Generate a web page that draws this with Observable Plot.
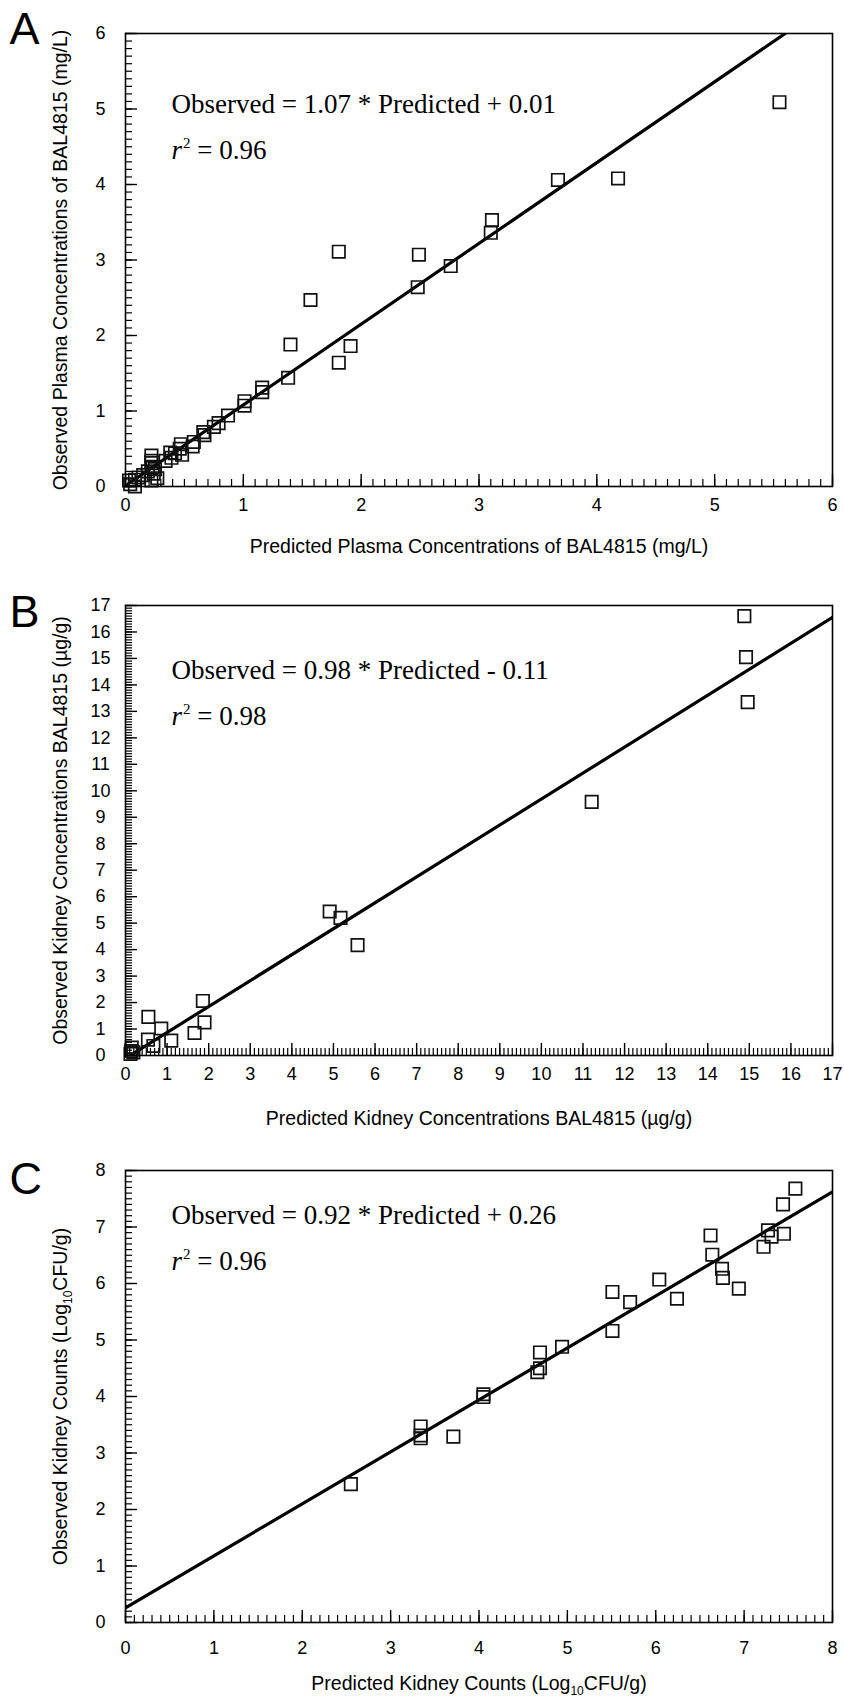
<!DOCTYPE html>
<html><head><meta charset="utf-8">
<script src="https://cdn.jsdelivr.net/npm/d3@7"></script>
<script src="https://cdn.jsdelivr.net/npm/@observablehq/plot@0.6"></script>
<style>
body{margin:0;background:#fff;}
#chart{width:844px;background:#fff;}
#chart svg{display:block;overflow:visible;}
</style></head><body><div id="chart"></div>
<script>
// ---------- Panel A : plasma concentrations (mg/L) ----------
const predictedA = [5.55,4.18,3.67,3.11,3.10,2.76,2.49,2.48,1.81,1.57,1.40,1.91,1.81,1.38,
  1.16,1.16,1.01,1.01,0.87,0.79,0.75,0.66,0.67,0.58,0.57,0.47,0.46,0.42,0.48,0.38,0.39,0.34,
  0.22,0.22,0.22,0.23,0.25,0.19,0.24,0.15,0.11,0.08,0.22,0.03,0.04,0.08,0.27];
const observedA = [5.09,4.08,4.06,3.53,3.36,2.92,3.07,2.64,3.11,2.47,1.88,1.86,1.64,1.44,
  1.31,1.25,1.13,1.07,0.94,0.84,0.79,0.72,0.68,0.59,0.53,0.56,0.50,0.44,0.42,0.45,0.38,0.34,
  0.41,0.34,0.31,0.26,0.23,0.20,0.17,0.15,0.12,0.09,0.08,0.08,0.03,0.00,0.11];
const fitA = {slope: 1.07, intercept: 0.01};
const majorTicksA = [0,1,2,3,4,5,6];

// ---------- Panel B : kidney concentrations (µg/g) ----------
const predictedB = [14.88,14.92,14.96,11.21,4.91,5.17,5.58,1.86,1.90,1.66,0.55,0.86,0.54,1.10,0.67,0.15,0.14,0.19,0.12];
const observedB  = [16.60,15.05,13.35,9.58,5.44,5.20,4.17,2.06,1.25,0.85,1.46,1.02,0.60,0.56,0.36,0.30,0.17,0.12,0.06];
const fitB = {slope: 0.98, intercept: -0.11};
const majorTicksB = [0,1,2,3,4,5,6,7,8,9,10,11,12,13,14,15,16,17];

// ---------- Panel C : kidney counts (Log10 CFU/g) ----------
const predictedC = [7.58,7.44,7.45,7.27,7.31,7.22,6.62,6.64,6.75,6.76,6.94,6.04,6.24,5.71,5.51,5.51,
  4.94,4.69,4.69,4.66,4.05,4.05,3.71,3.34,3.34,3.34,2.55];
const observedC  = [7.68,7.40,6.88,6.94,6.83,6.65,6.85,6.51,6.26,6.10,5.91,6.07,5.73,5.67,5.85,5.16,
  4.88,4.78,4.50,4.43,4.04,3.99,3.29,3.47,3.31,3.26,2.45];
const fitC = {slope: 0.92, intercept: 0.26};
const majorTicksC = [0,1,2,3,4,5,6,7,8];

const panelLetters = ["A","B","C"];
const xTitles = ["Predicted Plasma Concentrations of BAL4815 (mg/L)",
                 "Predicted Kidney Concentrations BAL4815 (µg/g)",
                 "Predicted Kidney Counts (Log10CFU/g)"];
const yTitles = ["Observed Plasma Concentrations of BAL4815 (mg/L)",
                 "Observed Kidney Concentrations BAL4815 (µg/g)",
                 "Observed Kidney Counts (Log10CFU/g)"];
const equations = ["Observed = 1.07 * Predicted + 0.01",
                   "Observed = 0.98 * Predicted - 0.11",
                   "Observed = 0.92 * Predicted + 0.26"];
const rSquared = ["r2 = 0.96","r2 = 0.98","r2 = 0.96"];

const SANS = "Liberation Sans, Arial, Helvetica, sans-serif";
const SERIF = "Liberation Serif, Times New Roman, serif";
const intFmt = d3.format("d");

function minorOf(max) { return d3.range(0, max * 10 + 1).map(i => i / 10); }

function panel(o) {
  const pts = o.pred.map((x, i) => ({x, y: o.obs[i]}));
  const fitLine = [0, o.max].map(x => ({x, y: o.fit.slope * x + o.fit.intercept}));
  const minor = minorOf(o.max);
  const svg = Plot.plot({
    width: 844, height: o.height,
    marginLeft: 125, marginRight: 12, marginTop: o.mt, marginBottom: o.mb,
    x: {domain: [0, o.max]}, y: {domain: [0, o.max]},
    style: {fontFamily: SANS, fontSize: "18px", color: "black", background: "transparent", overflow: "visible"},
    marks: [
      Plot.axisX({ticks: minor, tickSize: -7, tickFormat: () => "", label: null, strokeWidth: 1.2}),
      Plot.axisX({ticks: o.major, tickSize: -12, tickFormat: () => "", label: null, strokeWidth: 1.4}),
      Plot.axisX({ticks: o.major, tickSize: 0, tickPadding: o.xPad, tickFormat: intFmt, fontSize: 18, label: null}),
      Plot.axisY({ticks: minor, tickSize: -7, tickFormat: () => "", label: null, strokeWidth: 1.2}),
      Plot.axisY({ticks: o.major, tickSize: -12, tickFormat: () => "", label: null, strokeWidth: 1.4}),
      Plot.axisY({ticks: o.major, tickSize: 0, tickPadding: 25, tickFormat: intFmt, textAnchor: "middle", fontSize: 18, label: null}),
      Plot.line(fitLine, {x: "x", y: "y", stroke: "black", strokeWidth: 3.2, clip: true}),
      Plot.dot(pts, {x: "x", y: "y", symbol: "square", r: 7, stroke: "#111", strokeWidth: 1.7, fill: "none"}),
      Plot.frame({stroke: "black", strokeWidth: 1.6}),
      Plot.text([o.eq], {text: d => d, frameAnchor: "top-left", dx: 46, dy: o.eqDy, textAnchor: "start", lineAnchor: "bottom", fontFamily: SERIF, fontSize: 27}),
      Plot.text([o.r2], {text: d => d, frameAnchor: "top-left", dx: 46, dy: o.eqDy + 46, textAnchor: "start", lineAnchor: "bottom", fontFamily: SERIF, fontSize: 27}),
      Plot.text([o.letter], {text: d => d, frameAnchor: "top-left", dx: -116, dy: o.letterDy, textAnchor: "start", lineAnchor: "bottom", fontSize: 45}),
      Plot.text([o.xTitle], {text: d => d, frameAnchor: "bottom", dy: o.xTitleDy, lineAnchor: "middle", fontSize: 19.5}),
      Plot.text([o.yTitle], {text: d => d, frameAnchor: "left", dx: -65, rotate: -90, lineAnchor: "middle", textAnchor: "middle", fontSize: 19.5})
    ]
  });
  d3.select(svg).selectAll("text").each(function() {
    const t = this.textContent;
    const sel = d3.select(this);
    if (/^r2 = /.test(t)) {
      sel.text(null);
      sel.append("tspan").attr("font-style", "italic").text("r");
      sel.append("tspan").attr("dy", -11).attr("dx", 1).attr("font-size", 15).text("2");
      sel.append("tspan").attr("dy", 11).text(t.slice(2));
    } else if (t.includes("Log10")) {
      const [a, b] = t.split("Log10");
      sel.text(null);
      sel.append("tspan").text(a + "Log");
      sel.append("tspan").attr("dy", 5).attr("font-size", 12).text("10");
      sel.append("tspan").attr("dy", -5).text(b);
    }
  });
  return svg;
}

const chart = document.getElementById("chart");
chart.append(panel({pred: predictedA, obs: observedA, fit: fitA, max: 6, major: majorTicksA,
  height: 560, mt: 33, mb: 74, xPad: 12, xTitleDy: 60, eqDy: 79, letterDy: 10,
  letter: panelLetters[0], xTitle: xTitles[0], yTitle: yTitles[0], eq: equations[0], r2: rSquared[0]}));
chart.append(panel({pred: predictedB, obs: observedB, fit: fitB, max: 17, major: majorTicksB,
  height: 560, mt: 45, mb: 65, xPad: 12, xTitleDy: 63, eqDy: 73, letterDy: 21,
  letter: panelLetters[1], xTitle: xTitles[1], yTitle: yTitles[1], eq: equations[1], r2: rSquared[1]}));
chart.append(panel({pred: predictedC, obs: observedC, fit: fitC, max: 8, major: majorTicksC,
  height: 577, mt: 50, mb: 75, xPad: 19, xTitleDy: 61, eqDy: 53, letterDy: 23,
  letter: panelLetters[2], xTitle: xTitles[2], yTitle: yTitles[2], eq: equations[2], r2: rSquared[2]}));
</script></body></html>
